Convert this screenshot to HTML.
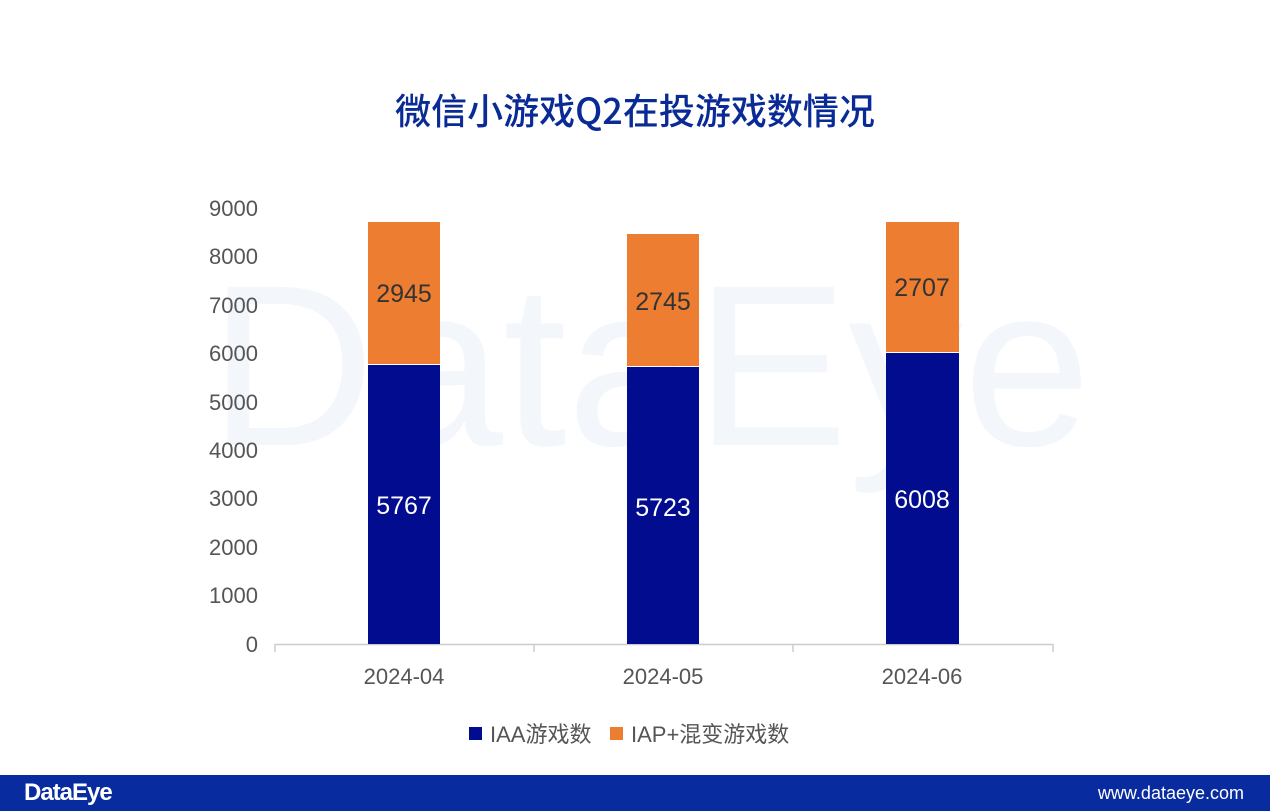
<!DOCTYPE html>
<html><head><meta charset="utf-8"><style>
body{margin:0;width:1270px;height:811px;background:#fff;position:relative;overflow:hidden;font-family:"Liberation Sans","Noto Sans CJK SC",sans-serif}
.t{position:absolute;left:0;width:1270px;top:83px;text-align:center;font-size:36px;font-weight:500;color:#0a2a96;font-family:"Noto Sans CJK SC",sans-serif}
.footer{position:absolute;left:0;top:775px;width:1270px;height:36px;background:#082ca0}
</style></head><body>
<div class="t">微信小游戏Q2在投游戏数情况</div>
<svg width="1270" height="811" style="position:absolute;left:0;top:0" font-family="Liberation Sans, Noto Sans CJK SC, sans-serif">
<text x="650" y="445" font-size="230" fill="#f3f7fc" text-anchor="middle">DataEye</text>
<g font-size="22" fill="#555" text-anchor="end">
<text x="258" y="652">0</text><text x="258" y="603">1000</text><text x="258" y="555">2000</text><text x="258" y="506">3000</text><text x="258" y="458">4000</text><text x="258" y="410">5000</text><text x="258" y="361">6000</text><text x="258" y="313">7000</text><text x="258" y="264">8000</text><text x="258" y="216">9000</text>
</g>
<line x1="275" y1="644.5" x2="1053" y2="644.5" stroke="#ccc" stroke-width="1.5"/>
<g stroke="#ccc" stroke-width="1.5"><line x1="275" y1="644" x2="275" y2="652"/><line x1="534" y1="644" x2="534" y2="652"/><line x1="793" y1="644" x2="793" y2="652"/><line x1="1053" y1="644" x2="1053" y2="652"/></g>
<rect x="368" y="365" width="72" height="279" fill="#020c8f"/>
<rect x="368" y="222" width="72" height="142" fill="#ed7d31"/>
<rect x="627" y="367" width="72" height="277" fill="#020c8f"/>
<rect x="627" y="234" width="72" height="132" fill="#ed7d31"/>
<rect x="886" y="353" width="73" height="291" fill="#020c8f"/>
<rect x="886" y="222" width="73" height="130" fill="#ed7d31"/>
<g font-size="25" text-anchor="middle">
<text x="404" y="302" fill="#333">2945</text><text x="663" y="310" fill="#333">2745</text><text x="922" y="296" fill="#333">2707</text>
<text x="404" y="514" fill="#fff">5767</text><text x="663" y="516" fill="#fff">5723</text><text x="922" y="508" fill="#fff">6008</text>
</g>
<g font-size="22" fill="#555" text-anchor="middle">
<text x="404" y="684">2024-04</text><text x="663" y="684">2024-05</text><text x="922" y="684">2024-06</text>
</g>
<rect x="469" y="727" width="13" height="13" fill="#020c8f"/>
<text x="490" y="742" font-size="22" fill="#555">IAA游戏数</text>
<rect x="610" y="727" width="13" height="13" fill="#ed7d31"/>
<text x="631" y="742" font-size="22" fill="#555">IAP+混变游戏数</text>
</svg>
<div class="footer">
<div style="position:absolute;left:24px;top:4px;color:#fff;font-size:24px;font-weight:bold;letter-spacing:-1px">DataEye</div>
<div style="position:absolute;right:26px;top:8px;color:#fff;font-size:18px">www.dataeye.com</div>
</div>
</body></html>
